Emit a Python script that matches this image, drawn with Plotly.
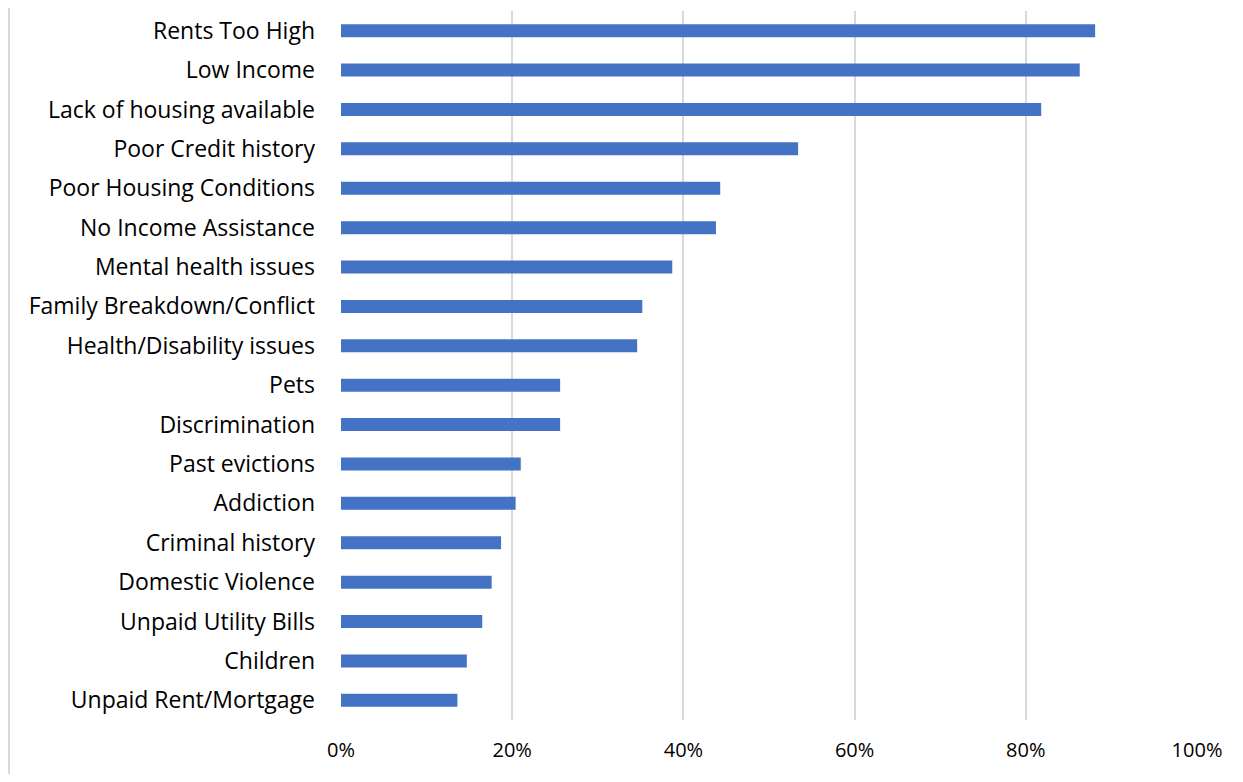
import plotly.graph_objects as go

categories = [
    "Rents Too High", "Low Income", "Lack of housing available", "Poor Credit history",
    "Poor Housing Conditions", "No Income Assistance", "Mental health issues",
    "Family Breakdown/Conflict", "Health/Disability issues", "Pets", "Discrimination",
    "Past evictions", "Addiction", "Criminal history", "Domestic Violence",
    "Unpaid Utility Bills", "Children", "Unpaid Rent/Mortgage",
]
values = [0.881, 0.863, 0.818, 0.534, 0.443, 0.438, 0.387, 0.352, 0.346,
          0.256, 0.256, 0.210, 0.204, 0.187, 0.176, 0.165, 0.147, 0.136]
tick_vals = [0, 0.2, 0.4, 0.6, 0.8, 1.0]
tick_text = ["0%", "20%", "40%", "60%", "80%", "100%"]

# page body has an 8px default margin; figure coordinates are offset by it
OFF = 8
W, H = 1243 - 2 * OFF, 782 - 2 * OFF
L, R, T, B = 341 - OFF, 1197 - OFF, 11 - OFF, 720 - OFF

fig = go.Figure(go.Bar(
    y=categories, x=values, orientation="h",
    marker=dict(color="#4472C4", line=dict(width=0)),
))

fig.update_layout(
    width=W, height=H,
    margin=dict(l=L, r=W - R, t=T, b=H - B, pad=0),
    paper_bgcolor="white", plot_bgcolor="white",
    bargap=0.67, showlegend=False,
    font=dict(family="'Open Sans', Lato, sans-serif", size=20, color="#000000"),
    xaxis=dict(range=[0, 1.0], tickvals=tick_vals, ticktext=tick_text,
               showgrid=True, gridcolor="#d9d9d9", gridwidth=1.5,
               zeroline=False, showline=False, ticks="", ticklabelstandoff=16,
               tickfont=dict(size=20), fixedrange=True),
    yaxis=dict(autorange="reversed", showgrid=False, zeroline=False,
               showline=False, ticks="", ticklabelstandoff=25,
               tickfont=dict(size=23), fixedrange=True),
)

# left border of chart frame
x_frame = (1 - L) / (R - L)
fig.add_shape(type="line", xref="paper", yref="paper",
              x0=x_frame, x1=x_frame,
              y0=(B - H) / (B - T), y1=(B - 0) / (B - T),
              line=dict(color="#d9d9d9", width=2))

fig.write_html("out.html")
